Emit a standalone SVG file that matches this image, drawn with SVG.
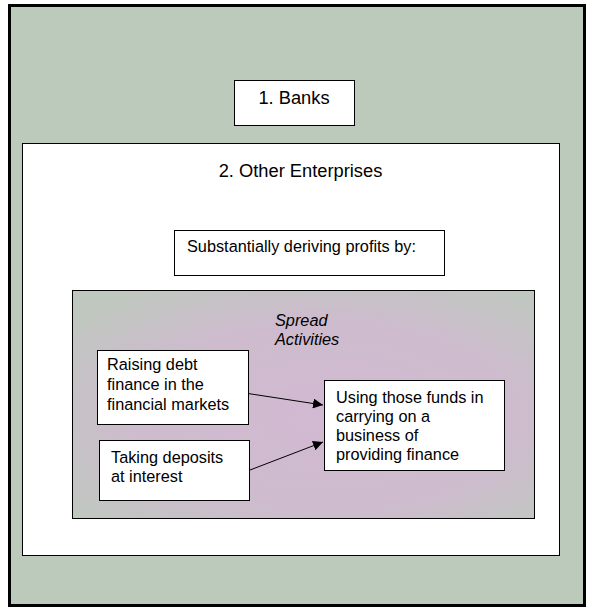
<svg xmlns="http://www.w3.org/2000/svg" width="595" height="614" viewBox="0 0 595 614">
  <defs>
    <marker id="arrow" viewBox="0 0 10 10" refX="10" refY="5" markerWidth="10" markerHeight="10" markerUnits="userSpaceOnUse" orient="auto">
      <path d="M0,0 L10,5 L0,10 z" fill="#000"/>
    </marker>
    <radialGradient id="innerFill" cx="0.55" cy="0.55" r="0.7">
      <stop offset="0" stop-color="#d2b9d2"/>
      <stop offset="0.6" stop-color="#cdbccd"/>
      <stop offset="1" stop-color="#bfc8bf"/>
    </radialGradient>
  </defs>
  <style>
    .box { fill: #ffffff; stroke: #000000; stroke-width: 1; }
    .t { font-family: "Liberation Sans", Arial, sans-serif; font-size: 16.3px; fill: #000000; }
    .title { font-family: "Liberation Sans", Arial, sans-serif; font-size: 18.3px; fill: #000000; }
    .conn { stroke: #000000; stroke-width: 1; fill: none; marker-end: url(#arrow); }
  </style>
  <rect width="595" height="614" fill="#ffffff"/>

  <g id="frame">
    <rect x="9.5" y="5.5" width="575" height="600" fill="#bccabc" stroke="#000" stroke-width="3"/>
  </g>

  <g id="banks">
    <rect class="box" x="234.5" y="80.5" width="120" height="45"/>
    <text class="title" x="294" y="104" text-anchor="middle">1. Banks</text>
  </g>

  <g id="other-enterprises">
    <rect class="box" x="22.5" y="143.5" width="537" height="412"/>
    <text class="title" x="300.5" y="177" text-anchor="middle">2. Other Enterprises</text>
  </g>

  <g id="substantially">
    <rect class="box" x="174.5" y="230.5" width="270" height="45"/>
    <text class="t" x="187" y="252">Substantially deriving profits by:</text>
  </g>

  <g id="spread-activities">
    <rect x="72.5" y="290.5" width="462" height="228" fill="url(#innerFill)" stroke="#000" stroke-width="1"/>
    <text class="t" x="275" y="326" font-style="italic">Spread</text>
    <text class="t" x="275" y="345" font-style="italic">Activities</text>
  </g>

  <g id="raising-debt">
    <rect class="box" x="97.5" y="350.5" width="151" height="74"/>
    <text class="t" x="107" y="370">Raising debt</text>
    <text class="t" x="107" y="390">finance in the</text>
    <text class="t" x="107" y="410">financial markets</text>
  </g>

  <g id="taking-deposits">
    <rect class="box" x="99.5" y="440.5" width="150" height="60"/>
    <text class="t" x="111" y="463">Taking deposits</text>
    <text class="t" x="111" y="482">at interest</text>
  </g>

  <g id="using-funds">
    <rect class="box" x="324.5" y="380.5" width="180" height="90"/>
    <text class="t" x="336" y="403">Using those funds in</text>
    <text class="t" x="336" y="422">carrying on a</text>
    <text class="t" x="336" y="441">business of</text>
    <text class="t" x="336" y="460">providing finance</text>
  </g>

  <g id="connectors">
    <line class="conn" x1="248" y1="393.5" x2="323" y2="405"/>
    <line class="conn" x1="250" y1="470" x2="323" y2="442"/>
  </g>
</svg>
